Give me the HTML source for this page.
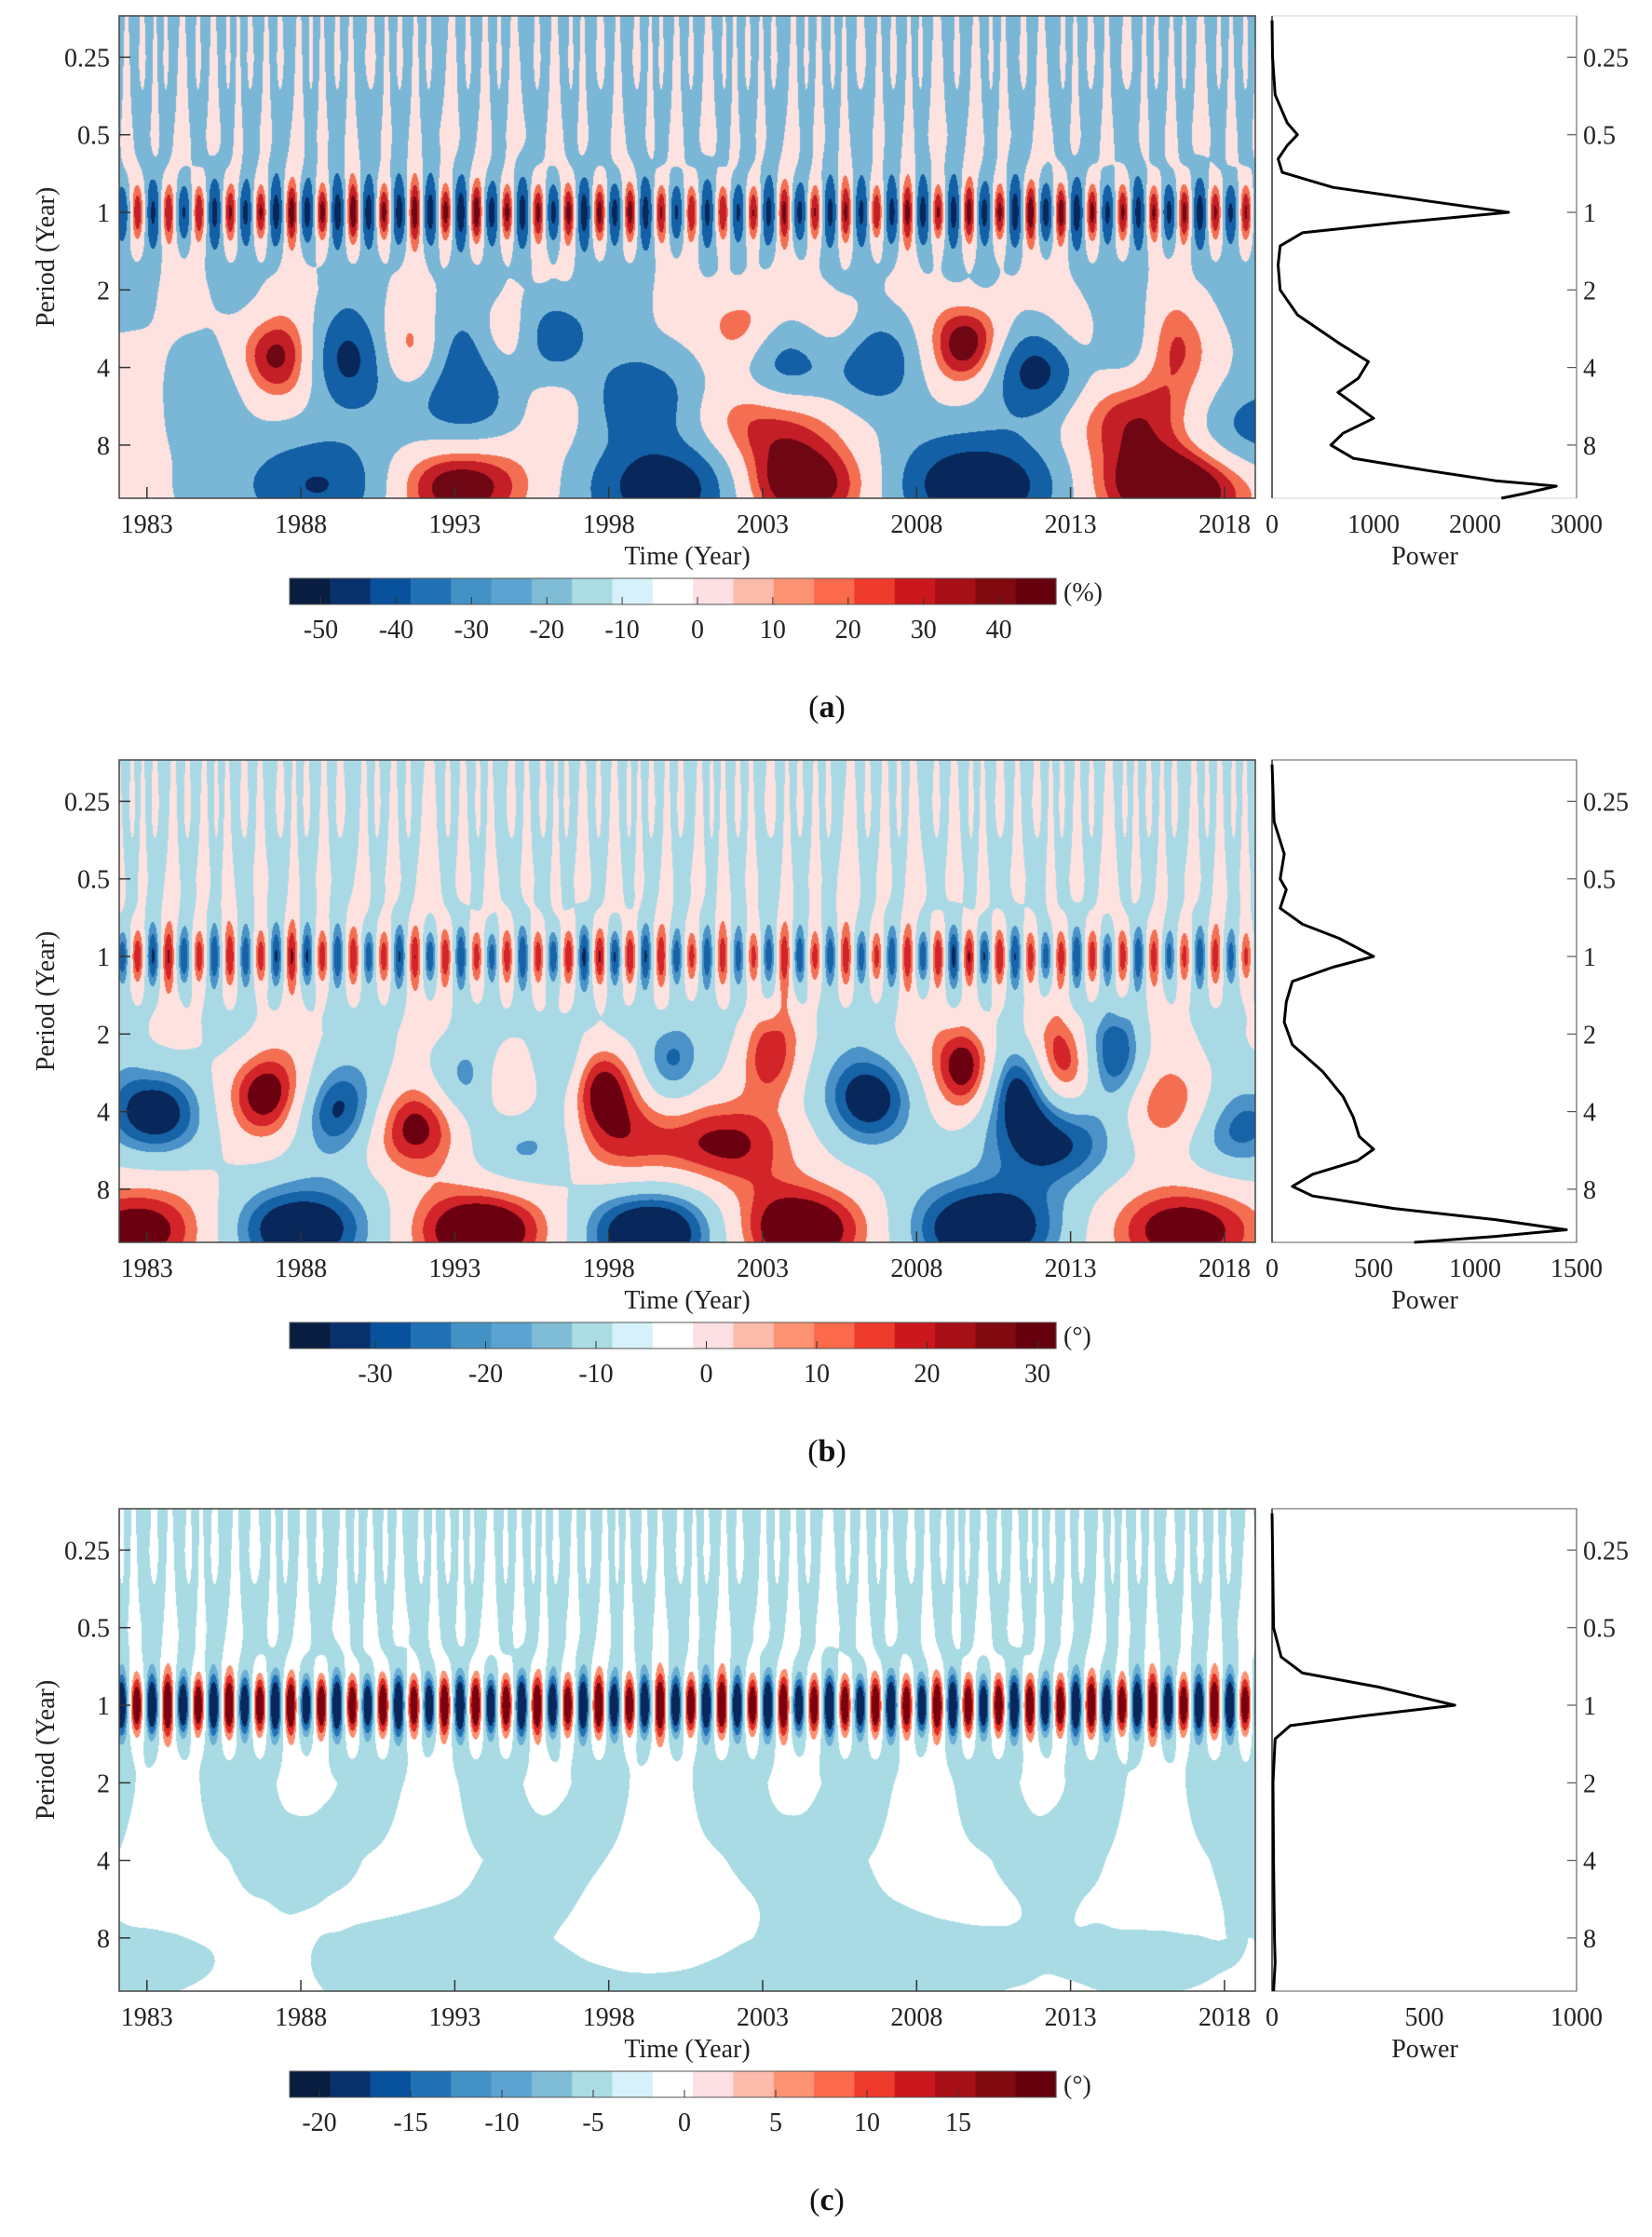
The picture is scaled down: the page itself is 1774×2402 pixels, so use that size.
<!DOCTYPE html>
<html><head><meta charset="utf-8">
<style>
html,body{margin:0;padding:0;background:#fff;}
#root{position:relative;width:1774px;height:2402px;overflow:hidden;background:#fff;font-family:"Liberation Serif",serif;}
canvas{position:absolute;}
svg{position:absolute;left:0;top:0;}
</style></head>
<body>
<div id="root">
<canvas id="ca" width="1220" height="518" style="left:128px;top:17px"></canvas>
<canvas id="cb" width="1220" height="518" style="left:128px;top:816px"></canvas>
<canvas id="cc" width="1220" height="518" style="left:128px;top:1620px"></canvas>
<svg id="ov" width="1774" height="2402"></svg>
</div>
<script>
// ---------- data ----------
const yearTicks = [1983,1988,1993,1998,2003,2008,2013,2018];
const periodTicks = [0.25,0.5,1,2,4,8];
const periodTickLabels = ["0.25","0.5","1","2","4","8"];

const aBlobYears   = [1983.0,1984.2,1987.4,1989.5,1991.6,1993.2,1994.6,1996.0,1993.5,1996.7,1998.6,2002.3,2003.7,2003.2,2005.5,2006.5,2009.7,2012.0,2013.4,2014.8,2016.2,2018.5,2015.3,1988.8,1993.0,2000.2,2004.0,2010.0,2016.3];
const aBlobPeriods = [4.6,4.6,3.7,3.7,3.5,3.25,3.0,3.0,5.3,5.3,5.3,2.8,4.1,6.1,3.0,3.7,3.25,4.1,3.25,3.25,3.25,7.0,6.1,11.5,11.5,11.5,11.5,11.5,11.5];
const aBlobAmps    = [2.3,-2.5,3.6,-3.5,2.5,-2.4,2.3,-2.3,-2.3,2.6,-3.4,2.2,-2.2,2.4,2.2,-3.0,3.5,-3.4,2.2,-2.2,2.1,-2.3,2.6,-2.7,3.5,-3.8,3.8,-3.9,3.9];
const aAnnualAmps  = [3.0,3.2,3.3,3.4,3.5,3.7,3.8,3.9,3.9,3.8,3.8,3.9,3.9,3.7,3.6,3.7,3.8,3.6,3.4,3.3,3.4,3.5,3.6,3.5,3.4,3.5,3.6,3.6,3.7,3.8,3.9,3.8,3.6,3.5,3.6,3.7,3.5,3.5];
const aPowPeriods  = [0.18,0.25,0.35,0.45,0.5,0.55,0.62,0.7,0.8,0.9,1.0,1.1,1.2,1.35,1.6,2,2.5,3.2,3.8,4.4,5.0,5.7,6.3,7.2,8.0,9.0,10,11,11.55,12.3,12.9];
const aPowValues   = [0,5,30,150,250,150,60,100,600,1500,2330,1200,300,80,60,80,250,650,950,850,650,850,1000,700,580,800,1500,2200,2800,2500,2260];

const bBlobYears   = [1982.8,1987.9,1993.9,1999.5,2004.1,2010.2,2016.7,1983.3,1987.0,1989.3,1991.6,1993.5,1994.9,1995.8,1996.3,1997.6,1997.8,2000.0,2002.0,2003.2,2006.5,2009.7,2011.3,2012.7,2014.4,2012.5,2016.4,2018.0];
const bBlobPeriods = [11.5,11.5,11.5,11.5,11.5,11.5,11.5,4.0,3.5,4.0,4.6,3.1,3.1,5.3,2.7,3.1,5.3,2.5,5.3,2.5,3.6,2.7,3.1,2.7,2.5,5.3,4.0,4.6];
const bBlobAmps    = [3.0,-3.6,3.9,-3.9,3.9,-3.7,3.0,-3.4,3.7,-3.4,3.3,-2.6,3.0,-2.5,-3.0,3.4,2.6,-2.5,2.6,2.2,-3.2,3.6,-3.2,3.2,-2.5,-2.6,2.6,-2.6];
const bAnnualAmps  = [3.0,3.3,3.2,3.1,3.0,3.2,3.3,3.1,3.0,3.1,3.2,3.0,2.9,3.0,3.1,3.2,3.4,3.2,3.0,2.9,2.8,2.9,3.0,3.0,2.9,2.9,3.0,3.3,3.4,3.1,2.9,3.0,3.0,2.9,2.8,2.9,2.8,2.8];
const bPowPeriods  = [0.18,0.3,0.4,0.5,0.55,0.65,0.75,0.85,1.0,1.1,1.25,1.5,1.8,2.2,2.8,3.5,4.2,5.0,5.6,6.2,7.0,7.8,8.5,9.5,10.5,11.5,12.2,12.9];
const bPowValues   = [0,10,60,40,70,40,150,330,500,300,100,70,60,100,250,350,400,430,500,420,200,100,200,600,1100,1450,1100,700];

const cBlobYears   = [1983.0,1992.5,2004.5,2015.5,1990.0,2000.0,2010.0];
const cBlobPeriods = [10,12,11,10,6,6,6];
const cBlobAmps    = [-0.9,-0.9,-0.9,-0.9,0.6,0.6,0.6];
const cAnnualAmps  = [4.6,4.6,4.6,4.6,4.6,4.6,4.6,4.6,4.6,4.6,4.6,4.6,4.6,4.6,4.6,4.6,4.6,4.6,4.6,4.6,4.6,4.6,4.6,4.6,4.6,4.6,4.6,4.6,4.6,4.6,4.6,4.6,4.6,4.6,4.6,4.6,4.6,4.6];
const cPowPeriods  = [0.18,0.5,0.65,0.75,0.85,1.0,1.1,1.2,1.35,2,4,8,10,12.9];
const cPowValues   = [0,5,30,100,350,600,300,60,10,3,5,8,10,5];

const cbarColors = ['#081d40','#08306b','#08519c','#2171b5','#4292c6','#5ba3d0','#7fbcd6','#abdbe3','#d6f1f9','#ffffff','#fde0e4','#fcbbaa','#fc9272','#fb6a4a','#ef3b2c','#cb181d','#a50f15','#800a10','#67000d'];
const aCbarLabels = ["-50","-40","-30","-20","-10","0","10","20","30","40"];
const aCbarValues = [-50,-40,-30,-20,-10,0,10,20,30,40];
const bCbarLabels = ["-30","-20","-10","0","10","20","30"];
const bCbarValues = [-30,-20,-10,0,10,20,30];
const cCbarLabels = ["-20","-15","-10","-5","0","5","10","15"];
const cCbarValues = [-20,-15,-10,-5,0,5,10,15];
const aPowTicks = [0,1000,2000,3000];
const bPowTicks = [0,500,1000,1500];
const cPowTicks = [0,500,1000];

// ---------- geometry ----------
const X0=128, W=1220, H=518, T0=1982.1, T1=2019.0, LTOP=-2.533, OCT=83.3;
const PX0=1366, PX1=1693;
const NS='http://www.w3.org/2000/svg';
const ov=document.getElementById('ov');
const FS=28;
function xOfYear(t){return X0+(t-T0)/(T1-T0)*W;}
function yOfPeriod(P,off){return 17+off+(Math.log2(P)-LTOP)*OCT;}
function mk(tag,attrs,parent){const e=document.createElementNS(NS,tag);for(const k in attrs)e.setAttribute(k,attrs[k]);(parent||ov).appendChild(e);return e;}
function txt(s,x,y,size,anchor,parent){const e=mk('text',{x:x,y:y,'font-size':size,'text-anchor':anchor||'middle',fill:'#222'},parent);e.style.fontFamily='"Liberation Serif", serif';e.textContent=s;return e;}

function hex(c){return [parseInt(c.slice(1,3),16),parseInt(c.slice(3,5),16),parseInt(c.slice(5,7),16)];}

function drawHeat(id,years,periods,amps,annual,phase,bgBase,bgAmp,colors,seed,lowDamp,gain){
  const cv=document.getElementById(id),ctx=cv.getContext('2d');
  const img=ctx.createImageData(W,H),d=img.data;
  const cols=colors.map(hex);
  const lev=[-3.2,-2.4,-1.6,0,1.6,2.4,3.2];
  const nb=years.length;
  const gx=[],gy=[];
  for(let b=0;b<nb;b++){
    const sx=Math.min(1.9,0.3*periods[b]),sy=0.42,l0=Math.log2(periods[b]);
    const ax=new Float32Array(W),ay=new Float32Array(H);
    for(let i=0;i<W;i++){const t=T0+(i+0.5)/W*(T1-T0);const u=(t-years[b])/sx;ax[i]=Math.exp(-u*u/2)*amps[b]*gain;}
    for(let j=0;j<H;j++){const l=LTOP+(j+0.5)/OCT;const u=(l-l0)/sy;ay[j]=Math.exp(-u*u/2);}
    gx.push(ax);gy.push(ay);
  }
  const ann=new Float32Array(W),tw=new Float32Array(W);
  for(let i=0;i<W;i++){const t=T0+(i+0.5)/W*(T1-T0);
    tw[i]=t+0.09*Math.sin(2.3*t+seed)+0.05*Math.sin(5.1*t+2*seed)+0.3*Math.sin(0.37*t+seed);
    const k=Math.max(0,Math.min(annual.length-1.001,t-1982));const k0=Math.floor(k),f=k-k0;
    ann[i]=(annual[k0]*(1-f)+annual[k0+1]*f)*Math.cos(2*Math.PI*(t-phase));}
  for(let j=0;j<H;j++){
    const l=LTOP+(j+0.5)/OCT;
    const ga=Math.exp(-l*l/(2*0.32*0.32));
    const n=Math.floor(l),f=l-n;
    const Sf=Math.pow(2,n+1),Sc=Math.pow(2,n+2);
    let amp=bgAmp*(1-0.85*ga);
    if(l>0.5) amp*=Math.max(lowDamp,1-0.4*(l-0.5));
    for(let i=0;i<W;i++){
      const bg=(1-f)*Math.cos(2*Math.PI*tw[i]/Sf)+f*Math.cos(2*Math.PI*tw[i]/Sc);
      let v=bgBase+amp*bg+ann[i]*ga;
      for(let b=0;b<nb;b++){const y=gy[b][j];if(y>0.002)v+=gx[b][i]*y;}
      let c=0;while(c<7&&v>=lev[c])c++;
      const p=(j*W+i)*4,col=cols[c];
      d[p]=col[0];d[p+1]=col[1];d[p+2]=col[2];d[p+3]=255;
    }
  }
  ctx.putImageData(img,0,0);
}

function drawAxes(off,letter,cLabels,cValues,cZero,cPer10,unit,powTicks,powMax,powP,powV,panelName){
  const g=mk('g',{});
  
  
  const fr=mk('rect',{x:X0,y:17+off,width:W,height:H,fill:'none',stroke:'#444','stroke-width':1.5},g);
  
  periodTicks.forEach((p,k)=>{
    const y=yOfPeriod(p,off);
    mk('line',{x1:X0,y1:y,x2:X0+12,y2:y,stroke:'#333','stroke-width':1.5},g);
    const t=txt(periodTickLabels[k],X0-10,y+10,FS,'end',g);
    
    mk('line',{x1:PX1-10,y1:y,x2:PX1,y2:y,stroke:'#555','stroke-width':1.2},g);
    const t2=txt(periodTickLabels[k],1700,y+10,FS,'start',g);
    
  });
  yearTicks.forEach(yr=>{
    const x=xOfYear(yr);
    mk('line',{x1:x,y1:17+off+H,x2:x,y2:17+off+H-12,stroke:'#333','stroke-width':1.5},g);
    const t=txt(String(yr),x,572+off,FS,'middle',g);
    
  });
  const xt=txt('Time (Year)',738,606+off,FS,'middle',g);
  
  const yt=txt('Period (Year)',0,0,FS,'middle',g);
  yt.setAttribute('transform','translate(58,'+(276+off)+') rotate(-90)');
  
  const pb=mk('rect',{x:PX0,y:17+off,width:PX1-PX0,height:H,fill:'none',stroke:off===0?'#ddd':'#777','stroke-width':1.2},g);
  
  mk('line',{x1:PX0,y1:17+off,x2:PX0,y2:17+off+H,stroke:'#333','stroke-width':1.5},g);
  mk('line',{x1:PX1,y1:17+off,x2:PX1,y2:17+off+H,stroke:'#777','stroke-width':1.2},g);
  powTicks.forEach(v=>{
    const x=PX0+v/powMax*(PX1-PX0);
    const t=txt(String(v),x,572+off,FS,'middle',g);
    
  });
  const pt=txt('Power',1530,606+off,FS,'middle',g);
  
  let pts=[];
  for(let k=0;k<powP.length;k++){
    const x=PX0+powV[k]/powMax*(PX1-PX0);
    const y=Math.min(17+off+H,yOfPeriod(powP[k],off));
    pts.push(x.toFixed(1)+','+y.toFixed(1));
  }
  const pl=mk('polyline',{points:pts.join(' '),fill:'none',stroke:'#000','stroke-width':3,'stroke-linejoin':'round'},g);
  
  const cb=mk('g',{},g);
  
  const cw=(1134-311)/cbarColors.length;
  cbarColors.forEach((c,k)=>{
    const r=mk('rect',{x:311+k*cw,y:621+off,width:cw+0.6,height:28,fill:c},cb);
    
  });
  mk('rect',{x:311,y:621+off,width:823,height:28,fill:'none',stroke:'#555','stroke-width':1},cb);
  cValues.forEach((v,k)=>{
    const x=cZero+v/10*cPer10;
    mk('line',{x1:x,y1:649+off,x2:x,y2:641+off,stroke:'#333','stroke-width':1},cb);
    const t=txt(cLabels[k],x,685+off,FS,'middle',cb);
    
  });
  const u=txt(unit,1142,645+off,FS,'start',g);
  
  const cap=mk('text',{x:888,y:770+off,'font-size':34,'text-anchor':'middle',fill:'#111'},g);
  cap.style.fontFamily='"Liberation Serif", serif';
  cap.innerHTML='(<tspan font-weight="bold">'+letter+'</tspan>)';
  
}

drawHeat('ca',aBlobYears,aBlobPeriods,aBlobAmps,aAnnualAmps,1982.7,-0.15,0.9,
  ['#08275a','#1360a6','#1360a6','#7ab7d6','#fde2df','#f46f52','#c41f27','#6e0713'],0.3,0.3,1.3);
drawHeat('cb',bBlobYears,bBlobPeriods,bBlobAmps,bAnnualAmps,1982.7,-0.05,0.9,
  ['#08275a','#1763a8','#4a92c8','#aad9e6','#fde2df','#f46f52','#d3242a','#6b0010'],1.7,0.3,1.3);
drawHeat('cc',cBlobYears,cBlobPeriods,cBlobAmps,cAnnualAmps,1983.67,-0.1,0.8,
  ['#08275a','#2171b5','#6baed6','#a8dbe3','#ffffff','#fb8f70','#de2d26','#7a0010'],3.1,0.8,1.0);

drawAxes(0,'a',aCbarLabels,aCbarValues,749,80.9,'(%)',aPowTicks,3000,aPowPeriods,aPowValues,'panel-a');
drawAxes(799,'b',bCbarLabels,bCbarValues,758.5,118.5,'(°)',bPowTicks,1500,bPowPeriods,bPowValues,'panel-b');
drawAxes(1603,'c',cCbarLabels,cCbarValues,735,196,'(°)',cPowTicks,1000,cPowPeriods,cPowValues,'panel-c');
</script>
</body></html>
